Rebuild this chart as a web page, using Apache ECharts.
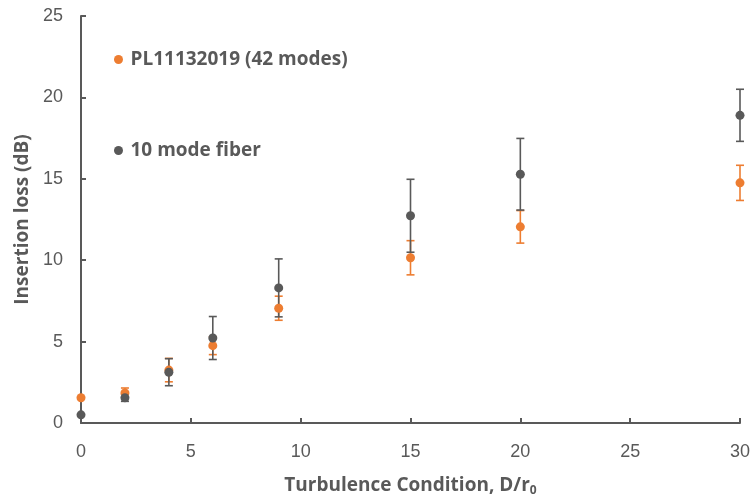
<!DOCTYPE html>
<html><head><meta charset="utf-8">
<script src="https://cdn.jsdelivr.net/npm/echarts@6/dist/echarts.min.js"></script>
<style>html,body{margin:0;padding:0;background:#fff}#c{width:755px;height:496px}</style>
</head><body><div id="c"></div>
<script>
var xValues = [0, 2, 4, 6, 9, 15, 20, 30];
var plValues = [1.55, 1.85, 3.25, 4.75, 7.05, 10.15, 12.05, 14.75];
var plErrors = [0.0, 0.3, 0.72, 0.55, 0.74, 1.05, 1.0, 1.08];
var fiberValues = [0.5, 1.55, 3.12, 5.22, 8.3, 12.73, 15.28, 18.9];
var fiberErrors = [0.0, 0.22, 0.83, 1.32, 1.78, 2.24, 2.2, 1.6];
var seriesNames = ['PL11132019 (42 modes)', '10 mode fiber'];
var colors = ['#ED7D31', '#595959'];

function pairs(vals){ return xValues.map(function(x,i){ return [x, vals[i]]; }); }
function errData(vals, errs){ return xValues.map(function(x,i){ return [x, vals[i]-errs[i], vals[i]+errs[i]]; }); }
function errSeries(vals, errs, color){
  return {
    type: 'custom', silent: true, z: 2,
    data: errData(vals, errs),
    renderItem: function(params, api){
      var lo = api.coord([api.value(0), api.value(1)]);
      var hi = api.coord([api.value(0), api.value(2)]);
      if (Math.abs(hi[1]-lo[1]) < 1) return null;
      var w = 4;
      var st = {stroke: color, lineWidth: 1.6};
      return {type:'group', children:[
        {type:'line', shape:{x1:lo[0],y1:lo[1],x2:hi[0],y2:hi[1]}, style:st},
        {type:'line', shape:{x1:lo[0]-w,y1:lo[1],x2:lo[0]+w,y2:lo[1]}, style:st},
        {type:'line', shape:{x1:hi[0]-w,y1:hi[1],x2:hi[0]+w,y2:hi[1]}, style:st}
      ]};
    }
  };
}

var chart = echarts.init(document.getElementById('c'), null, {renderer:'canvas'});
var axisColor = '#595959';
var titleFont = 'Open Sans';
chart.setOption({
  animation: false,
  textStyle: {fontFamily: 'Liberation Sans'},
  grid: {left: 81, right: 15, top: 16, bottom: 73, outerBoundsMode: 'none', containLabel: false},
  legend: {
    orient: 'vertical', left: 109, top: 45, itemGap: 72,
    icon: 'circle', itemWidth: 14, itemHeight: 9,
    data: seriesNames,
    textStyle: {fontSize: 19, fontWeight: 'bold', color: '#595959', fontFamily: titleFont}
  },
  xAxis: {
    type: 'value', min: 0, max: 30, interval: 5,
    name: 'Turbulence Condition, D/r{sub|0}', nameLocation: 'middle', nameGap: 52,
    nameTextStyle: {fontSize: 19, fontWeight: 'bold', color: '#595959', fontFamily: titleFont,
      rich: {sub: {fontSize: 12, fontWeight: 'bold', color: '#595959', fontFamily: titleFont, padding: [10,0,0,0]}}},
    axisLine: {lineStyle: {color: axisColor, width: 2}},
    axisTick: {inside: true, length: 5, lineStyle: {color: axisColor, width: 2}},
    axisLabel: {fontSize: 18, color: '#595959', margin: 20},
    splitLine: {show: false}
  },
  yAxis: {
    type: 'value', min: 0, max: 25, interval: 5,
    name: 'Insertion loss (dB)', nameLocation: 'middle', nameGap: 49,
    nameTextStyle: {fontSize: 19, fontWeight: 'bold', color: '#595959', fontFamily: titleFont},
    axisLine: {show: true, lineStyle: {color: axisColor, width: 2}},
    axisTick: {show: true, inside: true, length: 5, lineStyle: {color: axisColor, width: 2}},
    axisLabel: {fontSize: 18, color: '#595959', margin: 18},
    splitLine: {show: false}
  },
  series: [
    errSeries(plValues, plErrors, colors[0]),
    errSeries(fiberValues, fiberErrors, colors[1]),
    {name: seriesNames[0], type: 'scatter', data: pairs(plValues), symbolSize: 9, z: 3,
     itemStyle: {color: colors[0], opacity: 1}},
    {name: seriesNames[1], type: 'scatter', data: pairs(fiberValues), symbolSize: 9, z: 4,
     itemStyle: {color: colors[1], opacity: 1}}
  ]
});
</script></body></html>
